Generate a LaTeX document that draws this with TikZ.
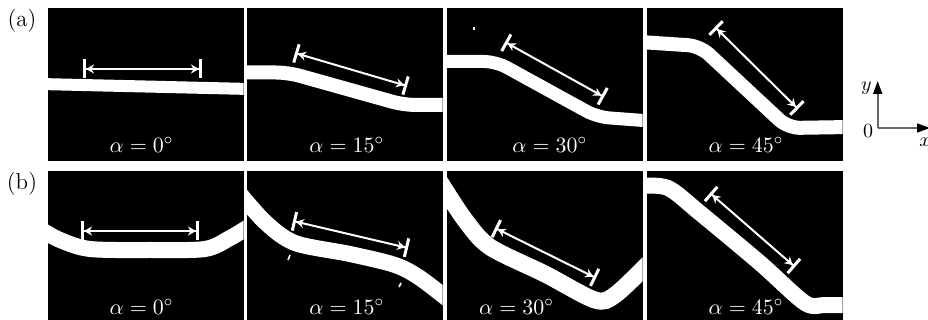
\documentclass[tikz,border=0pt]{standalone}
\usetikzlibrary{arrows.meta}

\begin{document}
\begin{tikzpicture}[x=0.5pt,y=-0.5pt,
  panel/.style={fill=black},
  stripe/.style={draw=white,line width=7pt,rounded corners=6pt},
  wave/.style={draw=white,line width=8pt},
  dim/.style={draw=white,line width=1pt,{Bar[width=9.5pt,line width=1.5pt]Stealth[length=4pt,width=4.5pt]}-{Stealth[length=4pt,width=4.5pt]Bar[width=9.5pt,line width=1.5pt]}},
  ang/.style={text=white,anchor=base,font=\fontsize{11}{13}\selectfont},
  tag/.style={font=\fontsize{11.5}{13}\selectfont},
  axis/.style={draw=black!60,line width=0.8pt,-{Triangle[length=6.5pt,width=4.5pt,black]}}]
\useasboundingbox (0,0) rectangle (928,320);
% black panels, two rows
\foreach \x in {48,247,447,647} {
  \fill[panel] (\x,8) rectangle ++(195.5,152.7);
  \fill[panel] (\x,171) rectangle ++(195.5,149);
}
% row (a): straight strips
\begin{scope} \clip (48,8) rectangle ++(195.5,152.7);
  \draw[stripe,line width=6pt] (40,84) -- (250,89);
\end{scope}
\begin{scope} \clip (247,8) rectangle ++(195.5,152.7);
  \draw[stripe] (240,72.5) -- (288,72.5) -- (404,105) -- (450,105);
\end{scope}
\begin{scope} \clip (447,8) rectangle ++(195.5,152.7);
  \draw[stripe,line width=6.5pt] (440,61.5) -- (496,61.5) -- (597,117) -- (650,121);
\end{scope}
\begin{scope} \clip (647,8) rectangle ++(195.5,152.7);
  \draw[stripe] (640,42) -- (700,46) -- (788,128) -- (850,127);
\end{scope}
\fill[white] (473,27.5) rectangle ++(2,3);
% row (b): bent strips
\begin{scope} \clip (48,171) rectangle ++(195.5,149);
  \draw[wave] plot[smooth,tension=0.5] coordinates {(40,229) (60,240) (90,249) (150,250) (205,249) (230,238) (250,226)};
\end{scope}
\begin{scope} \clip (247,171) rectangle ++(195.5,149);
  \draw[wave] plot[smooth,tension=0.5] coordinates {(235,188) (265,222) (295,243) (350,254) (395,265) (420,278) (455,305)};
\end{scope}
\begin{scope} \clip (447,171) rectangle ++(195.5,149);
  \draw[wave,line width=8.5pt] plot[smooth,tension=0.5] coordinates {(440,182) (465,220) (490,247) (545,274) (595,300) (615,295) (650,262)};
\end{scope}
\begin{scope} \clip (647,171) rectangle ++(195.5,149);
  \draw[wave] plot[smooth,tension=0.5] coordinates {(640,186) (668,188) (700,213) (760,263) (805,303) (825,305) (850,305)};
\end{scope}
\draw[white,line width=0.8pt] (288,260) -- (290,255);
\draw[white,line width=0.8pt] (399,287) -- (401,283);
% length markers
\draw[dim] (83,69) -- (202,69);
\draw[dim] (295,53) -- (407,86);
\draw[dim] (505,42) -- (604,97);
\draw[dim] (715,27) -- (798,109);
\draw[dim] (81,231) -- (199,231);
\draw[dim] (293,221) -- (408,248);
\draw[dim] (495,228) -- (596,278);
\draw[dim] (710,193) -- (795,267);
% labels
\node[tag] (la) at (22,21) {(a)};
\node[tag] (lb) at (22,184) {(b)};
\foreach \n/\x/\y/\a in {a1/141.5/152.3/0,a2/346.7/152.3/15,a3/549.7/152.3/30,a4/746/152.3/45,
                         b1/141.5/314.5/0,b2/346.7/314.5/15,b3/516.5/314.5/30,b4/746/314.5/45}
  \node[ang] (\n) at (\x,\y) {$\alpha=\a^\circ$};
% axes
\coordinate (o) at (877.7,128);
\coordinate (ya) at (877.7,81);
\coordinate (xa) at (930,128);
\draw[axis] (o) -- (ya);
\draw[axis] (o) -- (xa);
\node (ylab) at (866.5,88) {$y$};
\node (zero) at (868,131) {$0$};
\node (xlab) at (925,142) {$x$};
\end{tikzpicture}
\end{document}
